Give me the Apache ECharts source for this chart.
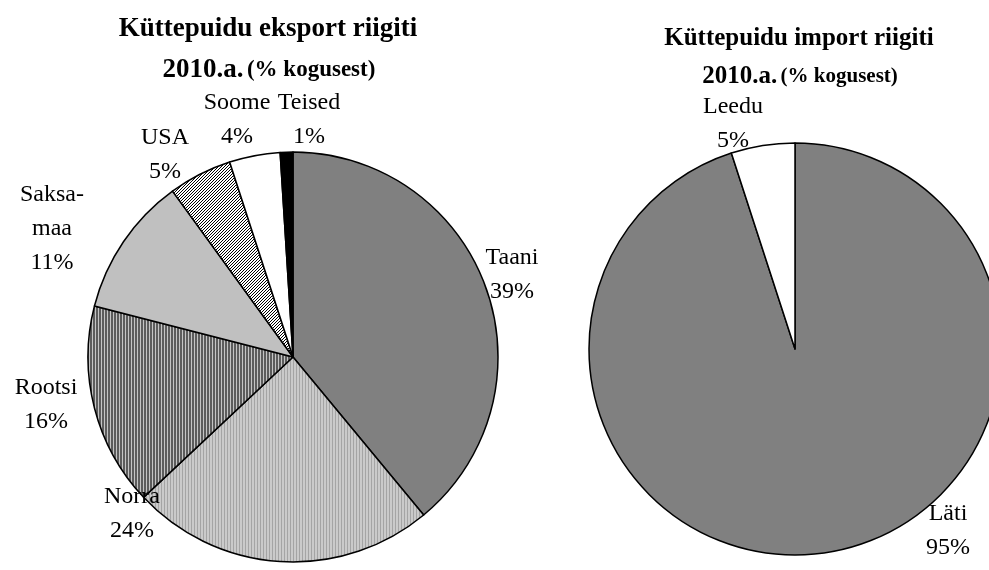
<!DOCTYPE html>
<html>
<head>
  <meta charset="UTF-8" />
  <title>Küttepuidu eksport ja import</title>
  <script src="https://cdn.jsdelivr.net/npm/echarts@6/dist/echarts.min.js"></script>
  <style>
    html, body { margin: 0; padding: 0; background: #fff; }
    #chart { width: 989px; height: 570px; }
  </style>
</head>
<body>
  <div id="chart"></div>
  <script>
    // andmed
    const exportNames = ['Taani', 'Norra', 'Rootsi', 'Saksa-\nmaa', 'USA', 'Soome', 'Teised'];
    const exportValues = [39, 24, 16, 11, 5, 4, 1];
    const importNames = ['Läti', 'Leedu'];
    const importValues = [95, 5];

    // sildi asukohad (keskpunkt)
    const exportLabelPos = [[512, 275], [132, 514], [46, 405], [52, 229], [165, 155], [237, 120], [309, 120]];
    const importLabelPos = [[948, 531], [733, 124]];

    const FONT = '"Liberation Serif", "Times New Roman", serif';

    function pattern(w, h, draw) {
      const c = document.createElement('canvas');
      c.width = w; c.height = h;
      const ctx = c.getContext('2d');
      draw(ctx);
      return { image: c, repeat: 'repeat' };
    }

    // Norra: hele hall peente vertikaalsete joontega
    const norraFill = pattern(3, 1, ctx => {
      ctx.fillStyle = '#cacaca'; ctx.fillRect(0, 0, 3, 1);
      ctx.fillStyle = '#a4a4a4'; ctx.fillRect(2, 0, 1, 1);
    });
    // Rootsi: tume hall heledate triipudega
    const rootsiFill = pattern(3, 1, ctx => {
      ctx.fillStyle = '#5c5c5c'; ctx.fillRect(0, 0, 3, 1);
      ctx.fillStyle = '#c4c4c4'; ctx.fillRect(2, 0, 1, 1);
    });
    // USA: diagonaalne viirutus
    const usaFill = pattern(3, 3, ctx => {
      ctx.fillStyle = '#ffffff'; ctx.fillRect(0, 0, 3, 3);
      ctx.fillStyle = '#000000';
      ctx.fillRect(0, 0, 1, 1); ctx.fillRect(2, 1, 1, 1); ctx.fillRect(1, 2, 1, 1);
    });

    const exportColors = ['#808080', norraFill, rootsiFill, '#c0c0c0', usaFill, '#ffffff', '#000000'];
    const importColors = ['#808080', '#ffffff'];

    const chart = echarts.init(document.getElementById('chart'));

    const baseLabel = {
      show: true,
      position: 'outside',
      fontFamily: FONT,
      fontSize: 24,
      lineHeight: 34,
      color: '#000',
      align: 'center',
      formatter: p => p.name + '\n' + p.value + '%'
    };

    chart.setOption({
      animation: false,
      graphic: [
        {
          type: 'text', x: 268, y: 29,
          style: { text: 'Küttepuidu eksport riigiti', font: 'bold 27px ' + FONT, fill: '#000', align: 'center', verticalAlign: 'middle' }
        },
        {
          type: 'text', x: 269, y: 70,
          style: {
            text: '{a|2010.a.} {b|(% kogusest)}', align: 'center', verticalAlign: 'middle',
            rich: {
              a: { fontFamily: FONT, fontWeight: 'bold', fontSize: 27, fill: '#000' },
              b: { fontFamily: FONT, fontWeight: 'bold', fontSize: 23, fill: '#000' }
            }
          }
        },
        {
          type: 'text', x: 799, y: 39,
          style: { text: 'Küttepuidu import riigiti', font: 'bold 25px ' + FONT, fill: '#000', align: 'center', verticalAlign: 'middle' }
        },
        {
          type: 'text', x: 800, y: 77,
          style: {
            text: '{a|2010.a.} {b|(% kogusest)}', align: 'center', verticalAlign: 'middle',
            rich: {
              a: { fontFamily: FONT, fontWeight: 'bold', fontSize: 25, fill: '#000' },
              b: { fontFamily: FONT, fontWeight: 'bold', fontSize: 21, fill: '#000' }
            }
          }
        }
      ],
      series: [
        {
          type: 'pie',
          center: [293, 357],
          radius: [0, 205],
          startAngle: 90,
          clockwise: true,
          avoidLabelOverlap: false,
          itemStyle: { borderColor: '#000', borderWidth: 1.5 },
          label: baseLabel,
          labelLine: { show: false },
          labelLayout: p => ({
            x: exportLabelPos[p.dataIndex][0],
            y: exportLabelPos[p.dataIndex][1],
            align: 'center',
            verticalAlign: 'middle'
          }),
          emphasis: { disabled: true },
          data: exportNames.map((n, i) => ({
            name: n, value: exportValues[i], itemStyle: { color: exportColors[i] }
          }))
        },
        {
          type: 'pie',
          center: [795, 349],
          radius: [0, 206],
          startAngle: 90,
          clockwise: true,
          avoidLabelOverlap: false,
          itemStyle: { borderColor: '#000', borderWidth: 1.5 },
          label: baseLabel,
          labelLine: { show: false },
          labelLayout: p => ({
            x: importLabelPos[p.dataIndex][0],
            y: importLabelPos[p.dataIndex][1],
            align: 'center',
            verticalAlign: 'middle'
          }),
          emphasis: { disabled: true },
          data: importNames.map((n, i) => ({
            name: n, value: importValues[i], itemStyle: { color: importColors[i] }
          }))
        }
      ]
    });
  </script>
</body>
</html>
